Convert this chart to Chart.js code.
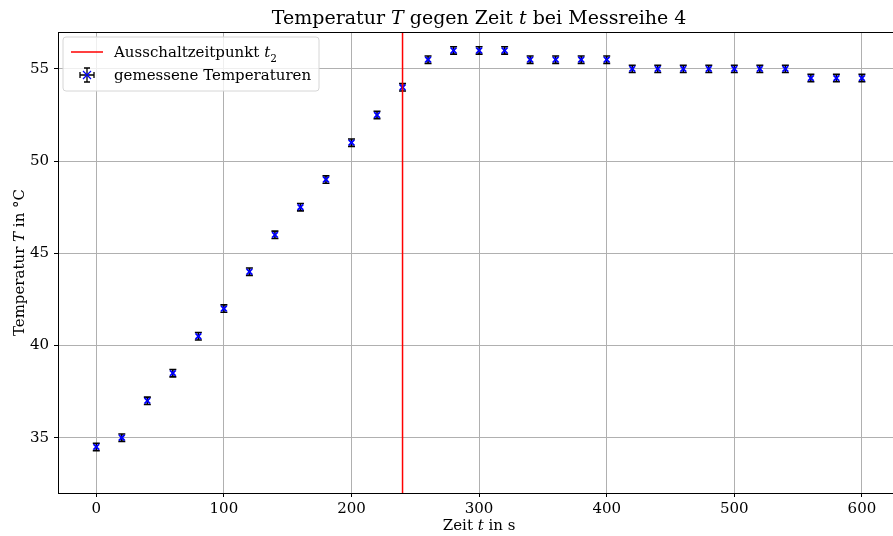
<!DOCTYPE html>
<html>
<head>
<meta charset="utf-8">
<script src="https://cdn.jsdelivr.net/npm/chart.js@4/dist/chart.umd.min.js"></script>
<style>
  html, body { margin: 0; padding: 0; background: #fff; overflow: hidden; }
  #wrap { width: 906px; height: 536px; }
</style>
</head>
<body>
<div id="wrap"><canvas id="tempChart" width="906" height="536"></canvas></div>
<script>
// Messreihe 4
const zeit = [0, 20, 40, 60, 80, 100, 120, 140, 160, 180, 200, 220, 240, 260, 280, 300,
              320, 340, 360, 380, 400, 420, 440, 460, 480, 500, 520, 540, 560, 580, 600];
const temperatur = [34.5, 35, 37, 38.5, 40.5, 42, 44, 46, 47.5, 49, 51, 52.5, 54, 55.5, 56, 56,
                    56, 55.5, 55.5, 55.5, 55.5, 55, 55, 55, 55, 55, 55, 55, 54.5, 54.5, 54.5];
const tErr = 0.2;      // Fehler Temperatur
const zeitErr = 1;     // Fehler Zeit
const t2 = 240;        // Ausschaltzeitpunkt
const xTicks = [0, 100, 200, 300, 400, 500, 600];
const yTicks = [35, 40, 45, 50, 55];
const xRange = [-30, 630];
const yRange = [32, 57];

const serif = "'DejaVu Serif', serif";

// draw text made of plain and italic parts
function richText(ctx, parts, x, y, size, align) {
  let total = 0;
  parts.forEach(p => {
    ctx.font = (p.it ? 'italic ' : '') + (p.sub ? size * 0.7 : size) + 'px ' + serif;
    p.w = ctx.measureText(p.t).width;
    total += p.w;
  });
  let cx = align === 'center' ? x - total / 2 : x;
  parts.forEach(p => {
    ctx.font = (p.it ? 'italic ' : '') + (p.sub ? size * 0.7 : size) + 'px ' + serif;
    ctx.fillText(p.t, cx, p.sub ? y + size * 0.3 : y);
    cx += p.w;
  });
}

// error bars behind the markers
const errorBars = {
  id: 'errorBars',
  beforeDatasetsDraw(chart) {
    const { ctx, scales: { x, y } } = chart;
    ctx.save();
    ctx.strokeStyle = '#000';
    ctx.lineWidth = 1.6;
    zeit.forEach((t, i) => {
      const px = x.getPixelForValue(t);
      const top = y.getPixelForValue(temperatur[i] + tErr);
      const bot = y.getPixelForValue(temperatur[i] - tErr);
      const py = y.getPixelForValue(temperatur[i]);
      const l = x.getPixelForValue(t - zeitErr);
      const r = x.getPixelForValue(t + zeitErr);
      ctx.beginPath();
      ctx.moveTo(px, top); ctx.lineTo(px, bot);
      ctx.moveTo(px - 3.5, top); ctx.lineTo(px + 3.5, top);
      ctx.moveTo(px - 3.5, bot); ctx.lineTo(px + 3.5, bot);
      ctx.moveTo(l, py); ctx.lineTo(r, py);
      ctx.stroke();
    });
    ctx.restore();
  }
};

// titles, frame and legend
const decorations = {
  id: 'decorations',
  afterDraw(chart) {
    const { ctx, chartArea: a } = chart;
    ctx.save();
    ctx.fillStyle = '#000';
    ctx.textBaseline = 'alphabetic';
    ctx.textAlign = 'left';
    richText(ctx, [{ t: 'Temperatur ' }, { t: 'T', it: true }, { t: ' gegen Zeit ' }, { t: 't', it: true },
      { t: ' bei Messreihe 4' }], (a.left + a.right) / 2, 24, 19, 'center');
    richText(ctx, [{ t: 'Zeit ' }, { t: 't', it: true }, { t: ' in s' }], (a.left + a.right) / 2, 530, 15, 'center');
    ctx.save();
    ctx.translate(24, (a.top + a.bottom) / 2);
    ctx.rotate(-Math.PI / 2);
    richText(ctx, [{ t: 'Temperatur ' }, { t: 'T', it: true }, { t: ' in °C' }], 0, 0, 15, 'center');
    ctx.restore();

    // frame
    ctx.strokeStyle = '#000';
    ctx.lineWidth = 1;
    ctx.strokeRect(a.left + 0.5, a.top + 0.5, a.right - a.left, a.bottom - a.top);

    // legend
    const lx = a.left + 5, ly = a.top + 5, lw = 256, lh = 54;
    ctx.fillStyle = 'rgba(255,255,255,0.8)';
    ctx.strokeStyle = '#d6d6d6';
    ctx.beginPath();
    ctx.roundRect(lx, ly, lw, lh, 3);
    ctx.fill();
    ctx.stroke();
    ctx.strokeStyle = '#ff0000';
    ctx.lineWidth = 1.5;
    ctx.beginPath();
    ctx.moveTo(lx + 8, ly + 15); ctx.lineTo(lx + 40, ly + 15);
    ctx.stroke();
    const mx = lx + 24, my = ly + 38;
    ctx.strokeStyle = '#000';
    ctx.lineWidth = 1.3;
    ctx.beginPath();
    ctx.moveTo(mx, my - 7); ctx.lineTo(mx, my + 7);
    ctx.moveTo(mx - 3, my - 7); ctx.lineTo(mx + 3, my - 7);
    ctx.moveTo(mx - 3, my + 7); ctx.lineTo(mx + 3, my + 7);
    ctx.moveTo(mx - 7, my); ctx.lineTo(mx + 7, my);
    ctx.moveTo(mx - 7, my - 3); ctx.lineTo(mx - 7, my + 3);
    ctx.moveTo(mx + 7, my - 3); ctx.lineTo(mx + 7, my + 3);
    ctx.stroke();
    ctx.strokeStyle = '#0000ff';
    ctx.beginPath();
    ctx.moveTo(mx - 4, my - 4); ctx.lineTo(mx + 4, my + 4);
    ctx.moveTo(mx - 4, my + 4); ctx.lineTo(mx + 4, my - 4);
    ctx.stroke();
    ctx.fillStyle = '#000';
    ctx.textAlign = 'left';
    richText(ctx, [{ t: 'Ausschaltzeitpunkt ' }, { t: 't', it: true }, { t: '2', sub: true }], lx + 51, ly + 20, 15);
    richText(ctx, [{ t: 'gemessene Temperaturen' }], lx + 51, ly + 43, 15);
    ctx.restore();
  }
};

const points = zeit.map((t, i) => ({ x: t, y: temperatur[i] }));

new Chart(document.getElementById('tempChart').getContext('2d'), {
  type: 'scatter',
  data: {
    datasets: [
      {
        label: 'Ausschaltzeitpunkt t2',
        type: 'line',
        data: [{ x: t2, y: yRange[0] }, { x: t2, y: yRange[1] }],
        borderColor: '#ff0000',
        borderWidth: 1.5,
        pointRadius: 0,
        fill: false
      },
      {
        label: 'gemessene Temperaturen',
        data: points,
        pointStyle: 'crossRot',
        pointRadius: 4,
        borderColor: '#0000ff',
        backgroundColor: '#0000ff',
        borderWidth: 1.8
      }
    ]
  },
  options: {
    responsive: false,
    animation: false,
    layout: { padding: { top: 32, right: 0, left: 0, bottom: 0 } },
    plugins: {
      legend: { display: false },
      title: { display: false },
      tooltip: { enabled: false }
    },
    scales: {
      x: {
        type: 'linear',
        min: xRange[0],
        max: xRange[1],
        afterBuildTicks: (s) => { s.ticks = xTicks.map(v => ({ value: v })); },
        afterFit: (s) => { s.height = 43; },
        grid: { color: '#b0b0b0', lineWidth: 1, tickLength: 4, tickColor: '#000', drawTicks: true },
        border: { display: false },
        ticks: { color: '#000', font: { family: serif, size: 15 }, padding: 3, maxRotation: 0 }
      },
      y: {
        type: 'linear',
        min: yRange[0],
        max: yRange[1],
        afterBuildTicks: (s) => { s.ticks = yTicks.map(v => ({ value: v })); },
        afterFit: (s) => { s.width = 58; },
        grid: { color: '#b0b0b0', lineWidth: 1, tickLength: 4, tickColor: '#000', drawTicks: true },
        border: { display: false },
        ticks: { color: '#000', font: { family: serif, size: 15 }, padding: 5 }
      }
    }
  },
  plugins: [errorBars, decorations]
});
</script>
</body>
</html>
